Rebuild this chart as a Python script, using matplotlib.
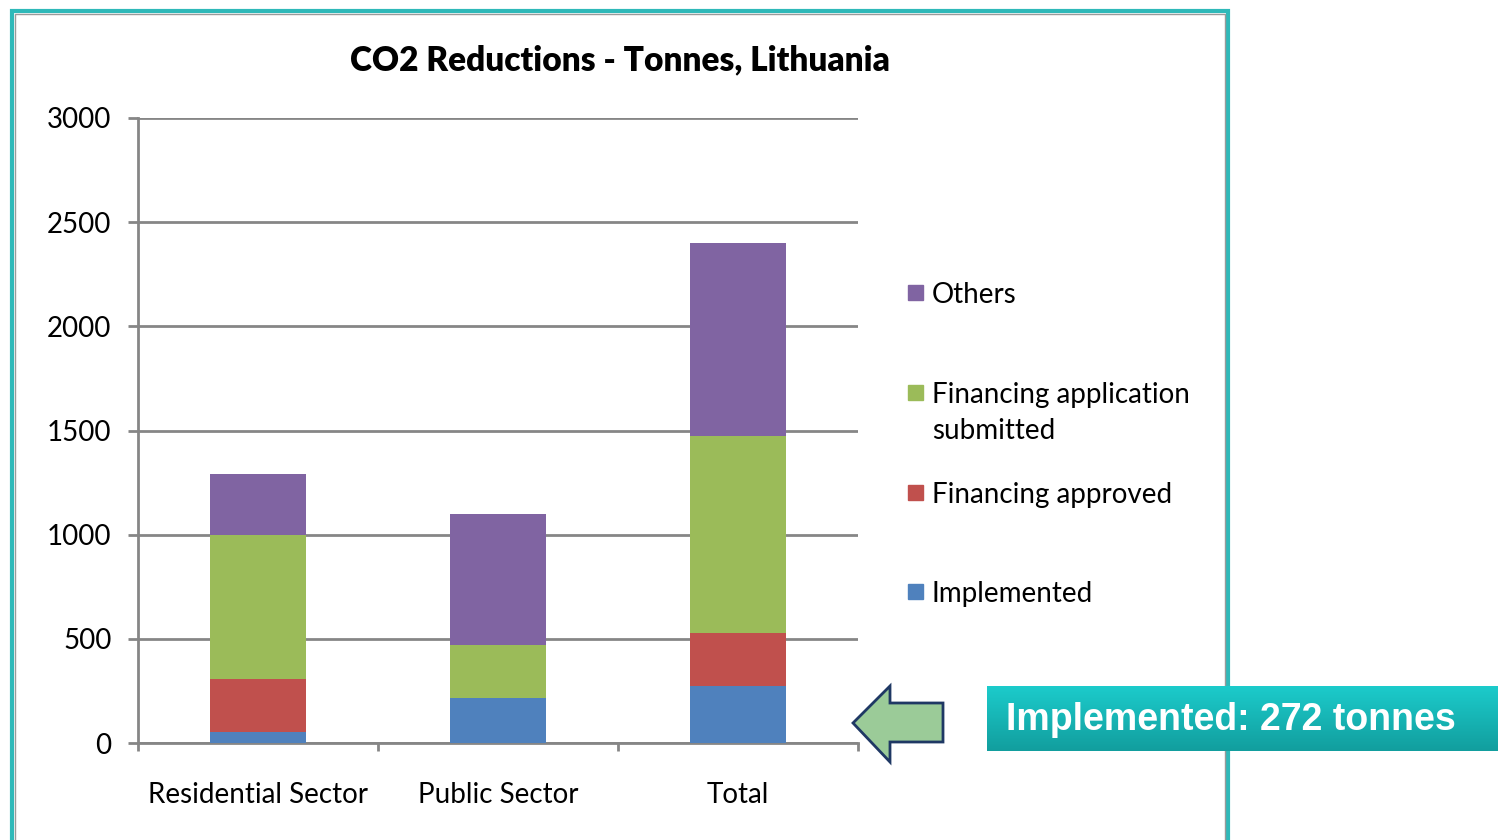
import matplotlib
matplotlib.use("Agg")
import matplotlib.pyplot as plt
import numpy as np
from matplotlib.patches import Rectangle, Polygon

W, H = 1498, 840

categories = ["Residential Sector", "Public Sector", "Total"]
series_names = ["Implemented", "Financing approved", "Financing application\nsubmitted", "Others"]
implemented = [55, 217, 272]
approved = [250, 0, 255]
submitted = [693, 252, 945]
others = [295, 628, 929]
series_values = [implemented, approved, submitted, others]
colors = ["#4F81BD", "#C0504D", "#9BBB59", "#8064A2"]
yticks = [0, 500, 1000, 1500, 2000, 2500, 3000]
title = "CO2 Reductions - Tonnes, Lithuania"
callout = "Implemented: 272 tonnes"

FONT = "Lato"
plt.rcParams["font.family"] = [FONT, "DejaVu Sans"]


def fx(x):
    return x / W


def fy(y):
    return 1 - y / H


fig = plt.figure(figsize=(W / 100, H / 100), dpi=100)
fig.patch.set_facecolor("white")

# outer slide frame
fig.patches.append(Rectangle((fx(12), fy(860)), (1228 - 12) / W, (860 - 11) / H,
                             transform=fig.transFigure, fill=False,
                             edgecolor="#2FB9B9", linewidth=3, zorder=0))
fig.patches.append(Rectangle((fx(15), fy(860)), (1225 - 15) / W, (860 - 14) / H,
                             transform=fig.transFigure, fill=False,
                             edgecolor="#9A9A9A", linewidth=1, zorder=0))

ax = fig.add_axes([fx(138), fy(743), 720 / W, 625 / H])
ax.set_zorder(2)
ax.patch.set_alpha(0)
x = np.arange(len(categories)) + 0.5
bottom = np.zeros(len(categories))
for vals, col, name in zip(series_values, colors, series_names):
    ax.bar(x, vals, width=0.396, bottom=bottom, color=col, edgecolor="none",
           zorder=3, label=name)
    bottom += np.array(vals)

ax.set_xlim(0, 3)
ax.set_ylim(0, 3000)
ax.set_yticks(yticks)
ax.set_yticklabels([str(t) for t in yticks], fontsize=20, color="black")
ax.yaxis.grid(True, color="#868686", linewidth=2, zorder=1)
ax.set_axisbelow(True)
ax.set_xticks(x)
ax.set_xticklabels(categories, fontsize=20)
ax.set_xticks([0, 1, 2, 3], minor=True)
ax.tick_params(axis="x", which="major", length=0, pad=28)
ax.tick_params(axis="x", which="minor", length=6, width=2, color="#868686")
ax.tick_params(axis="y", length=7, width=2, color="#868686", pad=12)
for s in ["top", "right"]:
    ax.spines[s].set_visible(False)
for s in ["left", "bottom"]:
    ax.spines[s].set_color("#868686")
    ax.spines[s].set_linewidth(2)

fig.text(fx(620), fy(60), title, fontsize=24, fontweight="heavy",
         ha="center", va="center")

# manual legend (top to bottom)
leg_y = [293, 393, 493, 592]
for name, col, yy in zip(series_names[::-1], colors[::-1], leg_y):
    fig.patches.append(Rectangle((fx(908), fy(yy + 7)), 15 / W, 15 / H,
                                 transform=fig.transFigure, color=col))
    fig.text(fx(932), fy(yy - 11), name, fontsize=20, ha="left", va="top",
             linespacing=1.5)

# arrow
arrow_pts = [(853, 723), (890, 686), (890, 703), (943, 703), (943, 742),
             (890, 742), (890, 762)]
fig.patches.append(Polygon([(fx(a), fy(b)) for a, b in arrow_pts], closed=True,
                           transform=fig.transFigure, facecolor="#9BCB98",
                           edgecolor="#1F3864", linewidth=2))

# callout box with gradient
bax = fig.add_axes([fx(987), fy(751), 511 / W, 65 / H])
bax.set_zorder(10)
grad = np.linspace(0, 1, 100).reshape(-1, 1)
top_c = np.array([0x1C, 0xCC, 0xCC]) / 255
bot_c = np.array([0x12, 0x9E, 0x9E]) / 255
img = top_c[None, None, :] * (1 - grad[:, :, None]) + bot_c[None, None, :] * grad[:, :, None]
bax.imshow(img, aspect="auto", extent=[0, 1, 0, 1])
bax.set_xlim(0, 1)
bax.set_ylim(0, 1)
bax.axis("off")
bax.text(0.038, 0.47, callout, color="white", fontsize=27, fontweight="bold",
         family="Liberation Sans", ha="left", va="center")

fig.savefig("out.png", dpi=100)
